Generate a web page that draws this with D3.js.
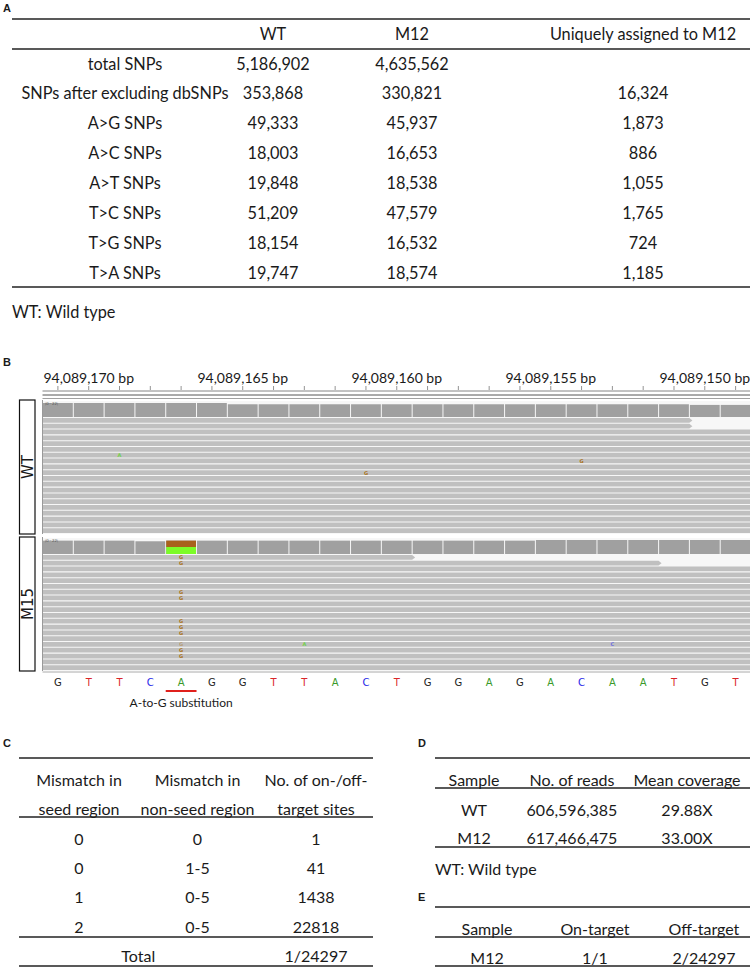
<!DOCTYPE html>
<html>
<head>
<meta charset="utf-8">
<script src="https://cdn.jsdelivr.net/npm/d3@7"></script>
<style>
  body { margin: 0; background: #fff; }
  text { font-family: Lato, "Open Sans", sans-serif; fill: #1a1a1a; }
  .panel-label { font-family: "Liberation Sans", Arial, sans-serif; font-weight: bold; font-size: 11px; }
</style>
</head>
<body>
<svg id="fig"></svg>
<script>
// ---------- data ----------
// panel A
const snpColumns = ["", "WT", "M12", "Uniquely assigned to M12"];
const snpTypes = ["total SNPs", "SNPs after excluding dbSNPs", "A>G SNPs", "A>C SNPs",
                  "A>T SNPs", "T>C SNPs", "T>G SNPs", "T>A SNPs"];
const wtSnps = [5186902, 353868, 49333, 18003, 19848, 51209, 18154, 19747];
const m12Snps = [4635562, 330821, 45937, 16653, 18538, 47579, 16532, 18574];
const uniqueM12Snps = [null, 16324, 1873, 886, 1055, 1765, 724, 1185];

// panel B (IGV view, reverse strand so positions decrease to the right)
const refBases = ["G","T","T","C","A","G","G","T","T","A","C","T","G","G","A","G","A","C","A","A","T","G","T"];
const firstPos = 94089171;
const rulerLabels = [94089170, 94089165, 94089160, 94089155, 94089150];
const wtCoverage = [22,22,22,22,22,22,20,20,20,20,20,20,20,20,20,20,20,20,20,20,20,19,19];
const m15Coverage = [21,21,21,20,21,21,21,21,21,21,21,21,21,21,21,21,22,22,22,22,22,22,22];
const m15SiteG = 10;   // reads with G at the A site
const wtReadEnds = [21, 21];          // reads that stop inside the window (index of last base + 1)
const m15ReadEnds = [12, 20];
const readRows = 20;
const wtMismatches = [
  { row: 6, idx: 2, base: "A" }, { row: 7, idx: 17, base: "G" }, { row: 9, idx: 10, base: "G" }
];
const m15Mismatches = [
  { row: 0, idx: 4, base: "G" }, { row: 1, idx: 4, base: "G" }, { row: 6, idx: 4, base: "G" },
  { row: 7, idx: 4, base: "G" }, { row: 11, idx: 4, base: "G" }, { row: 12, idx: 4, base: "G" },
  { row: 13, idx: 4, base: "G" }, { row: 15, idx: 4, base: "G", faint: true }, { row: 16, idx: 4, base: "G" },
  { row: 17, idx: 4, base: "G" }, { row: 15, idx: 8, base: "A" }, { row: 15, idx: 18, base: "C" }
];

// panel C
const seedHeader = ["Mismatch in", "seed region"];
const nonSeedHeader = ["Mismatch in", "non-seed region"];
const siteHeader = ["No. of on-/off-", "target sites"];
const seedMismatch = ["0", "0", "1", "2"];
const nonSeedMismatch = ["0", "1-5", "0-5", "0-5"];
const siteCounts = [1, 41, 1438, 22818];
const totalSites = "1/24297";

// panel D
const seqColumns = ["Sample", "No. of reads", "Mean coverage"];
const seqSamples = ["WT", "M12"];
const seqReads = [606596385, 617466475];
const seqCoverage = ["29.88X", "33.00X"];

// panel E
const targetColumns = ["Sample", "On-target", "Off-target"];
const targetSamples = ["M12"];
const onTarget = ["1/1"];
const offTarget = ["2/24297"];

// ---------- drawing ----------
const width = 750, height = 967;
const svg = d3.select("#fig").attr("width", width).attr("height", height);
const fmt = d3.format(",");
const ruleColor = "#222";
const fs = 16;

function rule(g, x1, x2, y, w) {
  return g.append("line").attr("x1", x1).attr("x2", x2).attr("y1", y).attr("y2", y)
    .attr("stroke", ruleColor).attr("stroke-width", w || 1.6);
}
function cell(g, x, y, txt, size, anchor) {
  return g.append("text").attr("x", x).attr("y", y)
    .attr("text-anchor", anchor || "middle").attr("dominant-baseline", "central")
    .style("font-size", (size || fs) + "px").text(txt);
}

// ===== Panel A =====
const gA = svg.append("g");
const fsA = 16.3;
gA.append("text").attr("class", "panel-label").attr("x", 3).attr("y", 12).text("A");
const xA = d3.scaleOrdinal().domain(snpColumns).range([125, 273, 412, 643]);
const yA = d3.scalePoint().domain(d3.range(snpTypes.length)).range([63, 272]);
rule(gA, 12, 750, 19);
snpColumns.slice(1).forEach(c => cell(gA, xA(c), 33, c, fsA));
rule(gA, 12, 750, 49, 1.3);
snpTypes.forEach((t, i) => {
  cell(gA, xA(""), yA(i), t, fsA);
  cell(gA, xA("WT"), yA(i), fmt(wtSnps[i]), fsA);
  cell(gA, xA("M12"), yA(i), fmt(m12Snps[i]), fsA);
  if (uniqueM12Snps[i] != null) cell(gA, xA("Uniquely assigned to M12"), yA(i), fmt(uniqueM12Snps[i]), fsA);
});
rule(gA, 12, 750, 287, 1.3);
cell(gA, 12, 311, "WT: Wild type", fsA, "start");

// ===== Panel B =====
const gB = svg.append("g");
gB.append("text").attr("class", "panel-label").attr("x", 3).attr("y", 366).text("B");
const positions = refBases.map((b, i) => firstPos - i);
const xB = d3.scaleBand().domain(positions).range([42.5, 751]);
const bw = xB.bandwidth();

// ruler
rulerLabels.forEach(p => cell(gB, xB(p) + bw / 2, 377, fmt(p) + " bp", 14));
gB.selectAll(".tick").data(positions).enter().append("line")
  .attr("x1", d => xB(d) + bw / 2).attr("x2", d => xB(d) + bw / 2)
  .attr("y1", 386).attr("y2", 390).attr("stroke", "#777").attr("stroke-width", 0.8);
rule(gB, 42.5, 750, 391, 0.8).attr("stroke", "#666");
rule(gB, 42.5, 750, 395, 1).attr("stroke", "#555");
rule(gB, 42.5, 750, 398.5, 0.8).attr("stroke", "#888");

const baseColor = { A: "#3a9a2a", C: "#2727e8", G: "#222", T: "#d9262a" };
const mmColor = { A: "#72d04a", C: "#6e6ee0", G: "#a8731c", T: "#d9262a" };

function igvTrack(top, bottom, label, coverage, readEnds, mismatches, siteG) {
  const g = gB.append("g");
  // sample label box
  g.append("rect").attr("x", 19.5).attr("y", top).attr("width", 15.5).attr("height", bottom - top)
    .attr("fill", "#fff").attr("stroke", "#111").attr("stroke-width", 1.2);
  g.append("text").attr("transform", `translate(28,${(top + bottom) / 2}) rotate(-90)`)
    .attr("text-anchor", "middle").attr("dominant-baseline", "central")
    .style("font-size", "15px").style("font-family", "'DejaVu Sans', sans-serif").text(label);

  // background
  g.append("rect").attr("x", 42.5).attr("y", top + 1).attr("width", 708).attr("height", bottom - top - 1)
    .attr("fill", "#f7f7f7");

  // coverage track
  const covTop = top + 2, covBottom = top + 17;
  const yCov = d3.scaleLinear().domain([0, 22]).range([covBottom, covTop + 1]);
  g.selectAll(".cov").data(positions).enter().append("rect")
    .attr("x", d => xB(d) + 0.5).attr("width", bw - 1)
    .attr("y", (d, i) => yCov(coverage[i])).attr("height", (d, i) => covBottom - yCov(coverage[i]))
    .attr("fill", "#a0a0a0");
  if (siteG) {
    const i = 4, p = positions[i];
    const yG = yCov(coverage[i]);
    const hG = covBottom - yCov(siteG);
    g.append("rect").attr("x", xB(p) + 0.5).attr("width", bw - 1).attr("y", yG).attr("height", hG).attr("fill", "#a8621c");
    g.append("rect").attr("x", xB(p) + 0.5).attr("width", bw - 1).attr("y", yG + hG).attr("height", covBottom - yG - hG).attr("fill", "#7cfc28");
  }
  g.append("text").attr("x", 45).attr("y", covTop + 3).style("font-size", "4px").style("fill", "#555").text("[0 - 22]");

  // reads
  const yRow = d3.scaleBand().domain(d3.range(readRows)).range([covBottom + 1, bottom - 1]).paddingInner(0.18);
  g.selectAll(".read").data(d3.range(readRows)).enter().append("path")
    .attr("fill", "#c0c0c0")
    .attr("d", r => {
      const y0 = yRow(r), h = yRow.bandwidth();
      const end = r < readEnds.length ? xB(positions[readEnds[r] - 1]) + bw : 750;
      const tip = r < readEnds.length ? 3 : 0;
      return `M42.5,${y0}H${end}L${end + tip},${y0 + h / 2}L${end},${y0 + h}H42.5Z`;
    });
  g.selectAll(".mm").data(mismatches).enter().append("text")
    .attr("x", d => xB(positions[d.idx]) + bw / 2).attr("y", d => yRow(d.row) + yRow.bandwidth() / 2)
    .attr("text-anchor", "middle").attr("dominant-baseline", "central")
    .style("font-size", "5px").style("font-weight", "bold")
    .style("font-family", "'DejaVu Sans', sans-serif")
    .style("fill", d => mmColor[d.base]).style("opacity", d => d.faint ? 0.45 : 1)
    .text(d => d.base);
  // left border of data panel
  g.append("line").attr("x1", 42.5).attr("x2", 42.5).attr("y1", top).attr("y2", bottom).attr("stroke", "#999");
}
igvTrack(400, 534, "WT", wtCoverage, wtReadEnds, wtMismatches, 0);
igvTrack(537, 671, "M15", m15Coverage, m15ReadEnds, m15Mismatches, m15SiteG);
rule(gB, 42.5, 750, 672, 1).attr("stroke", "#aaa");

// reference sequence
gB.selectAll(".base").data(refBases).enter().append("text")
  .attr("x", (d, i) => xB(positions[i]) + bw / 2).attr("y", 682)
  .attr("text-anchor", "middle").attr("dominant-baseline", "central")
  .style("font-size", "10px").style("font-family", "'DejaVu Sans', sans-serif")
  .style("fill", d => baseColor[d]).text(d => d);
gB.append("line").attr("x1", xB(positions[4])).attr("x2", xB(positions[4]) + bw)
  .attr("y1", 691).attr("y2", 691).attr("stroke", "#e0201c").attr("stroke-width", 2);
cell(gB, xB(positions[4]) + bw / 2, 702, "A-to-G substitution", 12);

// ===== Panel C =====
const gC = svg.append("g");
gC.append("text").attr("class", "panel-label").attr("x", 3).attr("y", 747).text("C");
const xC = d3.scalePoint().domain([0, 1, 2]).range([79, 316]);
const yC = d3.scalePoint().domain(d3.range(siteCounts.length)).range([838, 926]);
rule(gC, 19, 373, 758);
[seedHeader, nonSeedHeader, siteHeader].forEach((h, j) => {
  cell(gC, xC(j), 779, h[0]);
  cell(gC, xC(j), 808, h[1]);
});
rule(gC, 19, 373, 817, 1.3);
siteCounts.forEach((v, i) => {
  cell(gC, xC(0), yC(i), seedMismatch[i]);
  cell(gC, xC(1), yC(i), nonSeedMismatch[i]);
  cell(gC, xC(2), yC(i), v);
});
rule(gC, 19, 373, 937, 1.3);
cell(gC, (xC(0) + xC(1)) / 2, 955, "Total");
cell(gC, xC(2), 955, totalSites);
rule(gC, 19, 373, 966);

// ===== Panel D =====
const gD = svg.append("g");
gD.append("text").attr("class", "panel-label").attr("x", 418).attr("y", 747).text("D");
const xD = d3.scaleOrdinal().domain(seqColumns).range([474, 572, 687]);
const yD = d3.scalePoint().domain(d3.range(seqSamples.length)).range([809, 837]);
rule(gD, 435, 750, 758);
seqColumns.forEach(c => cell(gD, xD(c), 779, c));
rule(gD, 435, 750, 788, 1.3);
seqSamples.forEach((s, i) => {
  cell(gD, xD("Sample"), yD(i), s);
  cell(gD, xD("No. of reads"), yD(i), fmt(seqReads[i]));
  cell(gD, xD("Mean coverage"), yD(i), seqCoverage[i]);
});
rule(gD, 435, 750, 847, 1.3);
cell(gD, 435, 868, "WT: Wild type", fs, "start");

// ===== Panel E =====
const gE = svg.append("g");
gE.append("text").attr("class", "panel-label").attr("x", 418).attr("y", 901).text("E");
const xE = d3.scaleOrdinal().domain(targetColumns).range([487, 595, 704]);
rule(gE, 435, 750, 907);
targetColumns.forEach(c => cell(gE, xE(c), 928, c));
rule(gE, 435, 750, 937, 1.3);
targetSamples.forEach((s, i) => {
  cell(gE, xE("Sample"), 957, s);
  cell(gE, xE("On-target"), 957, onTarget[i]);
  cell(gE, xE("Off-target"), 957, offTarget[i]);
});
rule(gE, 435, 750, 966);
</script>
</body>
</html>
